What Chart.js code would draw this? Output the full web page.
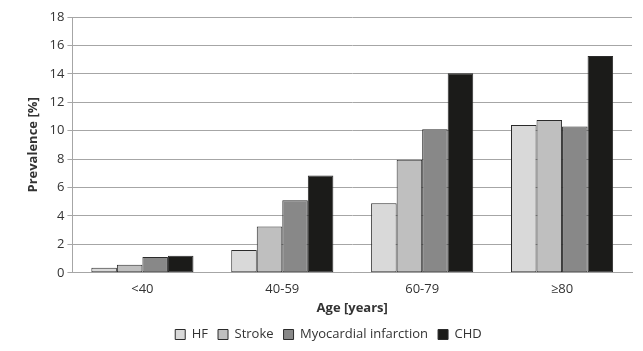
<!DOCTYPE html>
<html>
<head>
<meta charset="utf-8">
<script src="https://cdn.jsdelivr.net/npm/chart.js@4"></script>
<style>
  html, body { margin: 0; padding: 0; background: #fff; }
  #wrap { width: 643px; height: 351px; }
</style>
</head>
<body>
<div id="wrap"><canvas id="chart"></canvas></div>
<script>
const ageGroups = ['<40', '40-59', '60-79', '≥80'];
const hfValues = [0.35, 1.6, 4.9, 10.4];
const strokeValues = [0.56, 3.25, 7.95, 10.75];
const miValues = [1.12, 5.1, 10.1, 10.3];
const chdValues = [1.2, 6.85, 14.05, 15.25];

const fontFamily = "'Open Sans', 'Noto Sans', sans-serif";
const textColor = '#333';

function makeSet(label, data, color) {
    return {
        label: label,
        data: data,
        backgroundColor: color,
        borderColor: '#2b2b2b',
        borderWidth: 1,
        borderSkipped: false,
        barPercentage: 1.0,
        categoryPercentage: 0.73
    };
}

const ctx = document.getElementById('chart').getContext('2d');
new Chart(ctx, {
    type: 'bar',
    data: {
        labels: ageGroups,
        datasets: [
            makeSet('HF', hfValues, '#d9d9d9'),
            makeSet('Stroke', strokeValues, '#bfbfbf'),
            makeSet('Myocardial infarction', miValues, '#888888'),
            makeSet('CHD', chdValues, '#1b1b19')
        ]
    },
    options: {
        responsive: true,
        maintainAspectRatio: false,
        animation: false,
        layout: { padding: { left: 25, right: 11, top: 17, bottom: 0 } },
        plugins: {
            legend: {
                position: 'bottom',
                labels: {
                    boxWidth: 10,
                    boxHeight: 10,
                    padding: 10,
                    color: textColor,
                    font: { family: fontFamily, size: 13 }
                }
            },
            tooltip: { enabled: false }
        },
        scales: {
            x: {
                grid: { display: false },
                border: { color: '#a6a6a6' },
                ticks: { color: textColor, font: { family: fontFamily, size: 13 }, padding: 1 },
                title: {
                    display: true,
                    text: 'Age [years]',
                    color: textColor,
                    font: { family: fontFamily, size: 13, weight: 'bold' },
                    padding: { top: 2, bottom: 2 }
                }
            },
            y: {
                min: 0,
                max: 18,
                ticks: { stepSize: 2, color: textColor, font: { family: fontFamily, size: 13 }, padding: 3 },
                grid: { color: '#a6a6a6', tickLength: 5 },
                border: { color: '#a6a6a6' },
                title: {
                    display: true,
                    text: 'Prevalence [%]',
                    color: textColor,
                    font: { family: fontFamily, size: 13, weight: 'bold' },
                    padding: { top: 0, bottom: 6 }
                }
            }
        }
    }
});
</script>
</body>
</html>
